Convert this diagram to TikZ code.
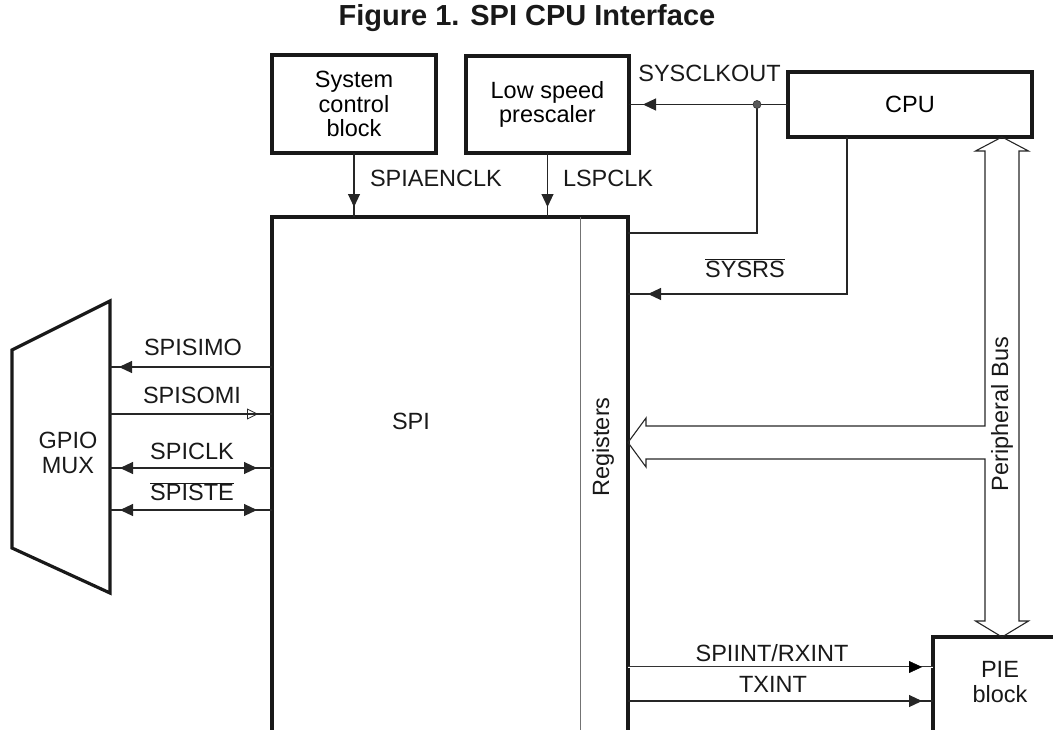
\documentclass[tikz,border=0pt]{standalone}
\usepackage{fontspec}
\setmainfont{Liberation Sans}
\usetikzlibrary{arrows.meta, decorations.markings, calc}
\newcommand\lblsize{\fontsize{23.5}{24.5}\selectfont}
\newcommand\ttlsize{\fontsize{29}{30}\selectfont}
\begin{document}
\begin{tikzpicture}[x=1pt, y=-1pt,
  >={Triangle[length=13pt, width=12pt]},
  box/.style={draw=black!90, line width=3.2pt, inner sep=0pt, outer sep=0pt, align=center, font=\lblsize},
  outline/.style={draw=black!90, line width=3.2pt, line join=miter},
  lbl/.style={inner sep=0pt, outer sep=0pt, font=\lblsize, text=black!90, align=center},
  sig/.style={draw=black!85, line width=1.1pt},
  regline/.style={draw=black!55, line width=1pt},
  bus/.style={draw=black!85, line width=1.1pt, line join=miter},
  dot/.style={circle, draw=black!80, fill=black!65, line width=0.6pt, minimum size=8pt, inner sep=0pt},
  arrowat/.style={postaction={decorate, decoration={markings, mark=at position #1 with {\arrow{>}}}}},
  arrowback/.style={postaction={decorate, decoration={markings, mark=at position #1 with {\arrowreversed{>}}}}},
  openat/.style={postaction={decorate, decoration={markings, mark=at position #1 with {\arrow[line width=0.8pt]{Triangle[open, length=11pt, width=11pt]}}}}},
]
\useasboundingbox (0,0) rectangle (1053,729);
\clip (0,0) rectangle (1053,729);

% title
\node[lbl, font=\bfseries\ttlsize] (title) at (527,18) {Figure 1. SPI CPU Interface};

% blocks
\node[box, minimum width=164, minimum height=98] (sysctl) at (354,104) {System\\control\\block};
\node[box, minimum width=163, minimum height=97] (lsp) at (547.5,104.5) {Low speed\\prescaler};
\node[box, minimum width=244, minimum height=65] (cpu) at (910,104.5) {CPU};
\node[box, anchor=north west, minimum width=356, minimum height=700] (spi) at (272,217) {};
\node[lbl] (spitext) at (411,421) {SPI};
\draw[regline] (spi.north -| 580,0) -- (spi.south -| 580,0);
\node[lbl, rotate=90] (regs) at (603,447) {Registers};
\node[box, anchor=north west, minimum width=250, minimum height=200] (pie) at (933,637) {};
\node[lbl] (pietext) at (1000,682) {PIE\\block};

% GPIO MUX
\coordinate (gTR) at (110,301);
\coordinate (gTL) at (12,350);
\coordinate (gBL) at (12,548);
\coordinate (gBR) at (110,593);
\draw[outline] (gTR) -- (gTL) -- (gBL) -- (gBR) -- cycle;
\node[lbl] (gpio) at (68,453) {GPIO\\MUX};

% left signals
\draw[sig, arrowat=-9pt] (spi.west |- 0,367) -- (gTR |- 0,367);
\draw[sig, openat=-14pt] (gTR |- 0,414) -- (spi.west |- 0,414);
\draw[sig, arrowat=-15pt, arrowback=10pt] (gTR |- 0,468) -- (spi.west |- 0,468);
\draw[sig, arrowat=-15pt, arrowback=10pt] (gTR |- 0,510) -- (spi.west |- 0,510);
\node[lbl, anchor=base] (lsimo) at (193,355.5) {SPISIMO};
\node[lbl, anchor=base] (lsomi) at (192,403.5) {SPISOMI};
\node[lbl, anchor=base] (lclk) at (192,459.5) {SPICLK};
\node[lbl, anchor=base] (lste) at (192,500.5) {$\overline{\hbox{SPISTE}}$};

% top signals
\draw[sig, arrowat=-10pt] (sysctl.south) -- (spi.north -| sysctl.south);
\draw[sig, arrowat=-10pt] (lsp.south) -- (spi.north -| lsp.south);
\node[lbl, anchor=base west] (laen) at (370,186.5) {SPIAENCLK};
\node[lbl, anchor=base west] (llsp) at (563,186.5) {LSPCLK};

\coordinate (jn) at (757,104.5);
\draw[sig, arrowat=-14pt] (cpu.west) -- (lsp.east);
\draw[sig] (jn) |- (spi.east |- 0,233);
\node[dot] (jdot) at (jn) {};
\node[lbl, anchor=base] (lsysclk) at (709.5,81.5) {SYSCLKOUT};

\draw[sig, arrowat=-20pt] (cpu.south -| 847,0) |- (spi.east |- 0,294);
\node[lbl, anchor=base] (lsysrs) at (745,277) {$\overline{\hbox{SYSRS}}$};

% interrupts
\draw[draw=black!80, line width=0.8pt, double=white, double distance=0.9pt] (spi.east |- 0,667) -- (pie.west |- 0,667);
\path[arrowat=-11pt] (spi.east |- 0,667) -- (pie.west |- 0,667);
\draw[sig, arrowat=-11pt] (spi.east |- 0,701) -- (pie.west |- 0,701);
\node[lbl, anchor=base] (lrx) at (772,661.5) {SPIINT/RXINT};
\node[lbl, anchor=base] (ltx) at (773,692.5) {TXINT};

% peripheral bus
\coordinate (busT) at (cpu.south -| 1002,0);
\coordinate (busB) at (pie.north -| 1002,0);
\coordinate (busL) at (spi.east |- 0,442.5);
\draw[bus] (busT) -- ($(busT)+(26.5,14)$) -- ($(busT)+(17,14)$)
  -- ($(busB)+(17,-16)$) -- ($(busB)+(26.5,-16)$) -- (busB)
  -- ($(busB)+(-26.5,-16)$) -- ($(busB)+(-17,-16)$)
  -- ($(busL)+(357,16.5)$) -- ($(busL)+(18,16.5)$) -- ($(busL)+(18,24.5)$)
  -- (busL)
  -- ($(busL)+(18,-24.5)$) -- ($(busL)+(18,-16.5)$) -- ($(busL)+(357,-16.5)$)
  -- ($(busT)+(-17,14)$) -- ($(busT)+(-26.5,14)$) -- cycle;
\node[lbl, rotate=90] (pbus) at (1002,414) {Peripheral Bus};
\end{tikzpicture}
\end{document}
